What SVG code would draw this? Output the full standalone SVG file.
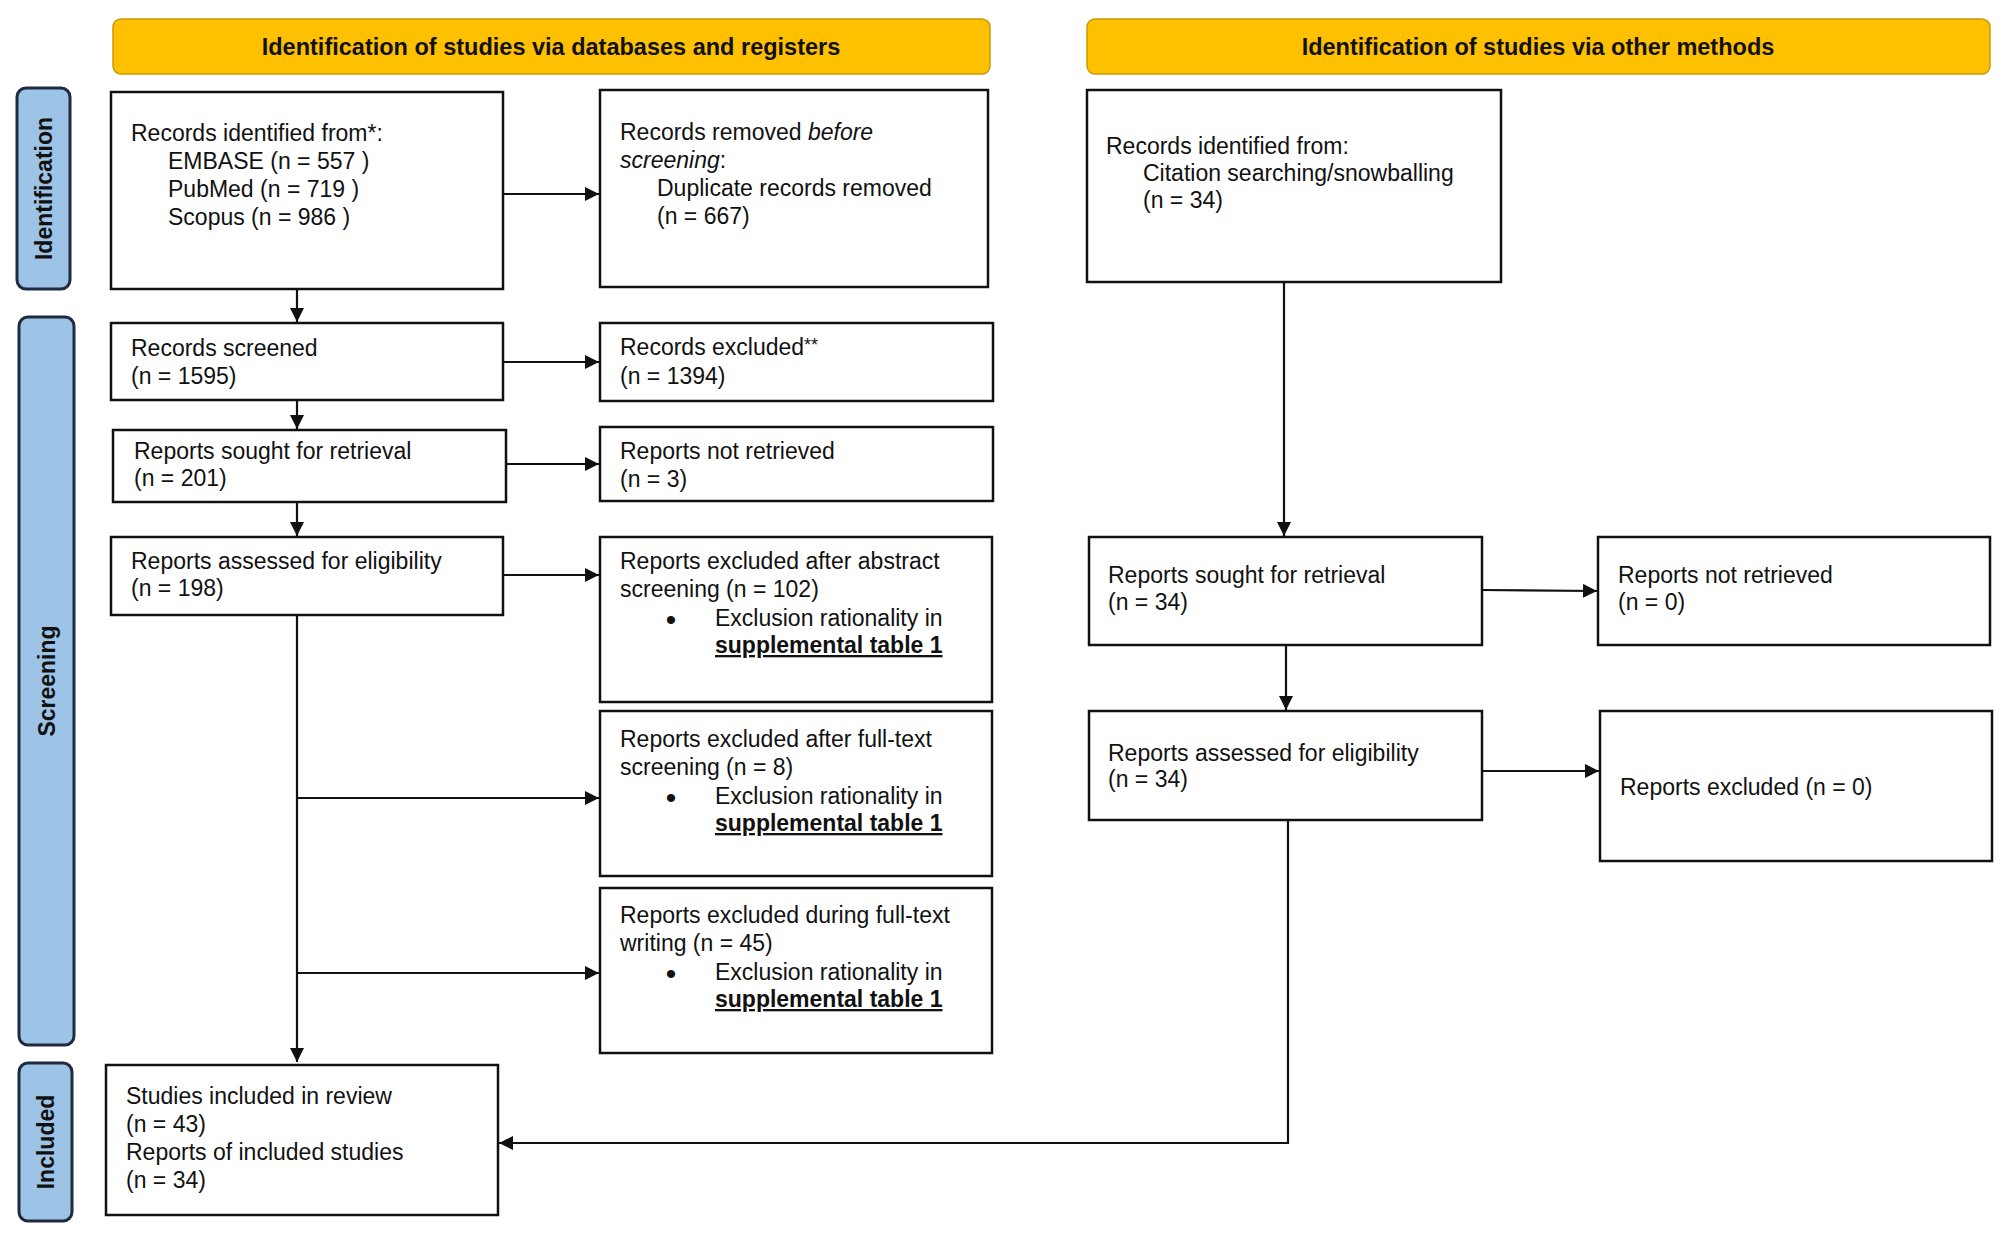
<svg xmlns="http://www.w3.org/2000/svg" width="2008" height="1233" viewBox="0 0 2008 1233">
<defs>
<style>
.box{fill:#fff;stroke:#111;stroke-width:2.5}
.hdr{fill:#FFC000;stroke:#C99A06;stroke-width:1.5}
.side{fill:#9DC3E6;stroke:#1E2B40;stroke-width:3}
.t{font-family:"Liberation Sans",Arial,sans-serif;font-size:23px;fill:#111}
.bul{font-family:"Liberation Sans",Arial,sans-serif;font-size:30px;fill:#111;text-anchor:middle}
.ht{font-family:"Liberation Sans",Arial,sans-serif;font-size:23.5px;font-weight:bold;fill:#111;text-anchor:middle}
.st{font-family:"Liberation Sans",Arial,sans-serif;font-size:23px;font-weight:bold;fill:#111;text-anchor:middle}
.u{font-weight:bold;text-decoration:underline}
.c{fill:none;stroke:#111;stroke-width:2.2}
</style>
<marker id="ah" markerUnits="userSpaceOnUse" markerWidth="15" markerHeight="15" refX="14" refY="7" orient="auto">
<path d="M0,0 L14,7 L0,14 z" fill="#111"/>
</marker>
</defs>
<rect width="2008" height="1233" fill="#fff"/>

<g id="header-databases">
<rect class="hdr" x="113" y="19" width="877" height="55" rx="8"/>
<text class="ht" x="551" y="55">Identification of studies via databases and registers</text>
</g>
<g id="header-other">
<rect class="hdr" x="1087" y="19" width="903" height="55" rx="8"/>
<text class="ht" x="1538" y="55">Identification of studies via other methods</text>
</g>

<g id="label-identification">
<rect class="side" x="17" y="88" width="53" height="201" rx="9"/>
<text class="st" transform="translate(52,188.5) rotate(-90)">Identification</text>
</g>
<g id="label-screening">
<rect class="side" x="19" y="317" width="55" height="728" rx="9"/>
<text class="st" transform="translate(54.5,681) rotate(-90)">Screening</text>
</g>
<g id="label-included">
<rect class="side" x="19" y="1063" width="53" height="158" rx="9"/>
<text class="st" transform="translate(53.5,1142) rotate(-90)">Included</text>
</g>

<g id="records-identified">
<rect class="box" x="111" y="92" width="392" height="197"/>
<text class="t" x="131" y="141">Records identified from*:</text>
<text class="t" x="168" y="169">EMBASE (n = 557 )</text>
<text class="t" x="168" y="197">PubMed (n = 719 )</text>
<text class="t" x="168" y="225">Scopus (n = 986 )</text>
</g>
<g id="records-removed">
<rect class="box" x="600" y="90" width="388" height="197"/>
<text class="t" x="620" y="140">Records removed <tspan font-style="italic">before</tspan></text>
<text class="t" x="620" y="168"><tspan font-style="italic">screening</tspan>:</text>
<text class="t" x="657" y="196">Duplicate records removed</text>
<text class="t" x="657" y="224">(n = 667)</text>
</g>
<g id="records-screened">
<rect class="box" x="111" y="323" width="392" height="77"/>
<text class="t" x="131" y="356">Records screened</text>
<text class="t" x="131" y="384">(n = 1595)</text>
</g>
<g id="records-excluded">
<rect class="box" x="600" y="323" width="393" height="78"/>
<text class="t" x="620" y="355">Records excluded<tspan font-size="18" dy="-4">**</tspan></text>
<text class="t" x="620" y="384">(n = 1394)</text>
</g>
<g id="reports-sought">
<rect class="box" x="113" y="430" width="393" height="72"/>
<text class="t" x="134" y="459">Reports sought for retrieval</text>
<text class="t" x="134" y="486">(n = 201)</text>
</g>
<g id="reports-not-retrieved">
<rect class="box" x="600" y="427" width="393" height="74"/>
<text class="t" x="620" y="459">Reports not retrieved</text>
<text class="t" x="620" y="487">(n = 3)</text>
</g>
<g id="reports-assessed">
<rect class="box" x="111" y="537" width="392" height="78"/>
<text class="t" x="131" y="569">Reports assessed for eligibility</text>
<text class="t" x="131" y="596">(n = 198)</text>
</g>
<g id="excluded-abstract">
<rect class="box" x="600" y="537" width="392" height="165"/>
<text class="t" x="620" y="569">Reports excluded after abstract</text>
<text class="t" x="620" y="597">screening (n = 102)</text>
<text class="bul" x="671" y="630">•</text>
<text class="t" x="715" y="626">Exclusion rationality in</text>
<text class="t" x="715" y="653"><tspan class="u">supplemental table 1</tspan></text>
</g>
<g id="excluded-fulltext">
<rect class="box" x="600" y="711" width="392" height="165"/>
<text class="t" x="620" y="747">Reports excluded after full-text</text>
<text class="t" x="620" y="775">screening (n = 8)</text>
<text class="bul" x="671" y="808">•</text>
<text class="t" x="715" y="804">Exclusion rationality in</text>
<text class="t" x="715" y="831"><tspan class="u">supplemental table 1</tspan></text>
</g>
<g id="excluded-writing">
<rect class="box" x="600" y="888" width="392" height="165"/>
<text class="t" x="620" y="923">Reports excluded during full-text</text>
<text class="t" x="620" y="951">writing (n = 45)</text>
<text class="bul" x="671" y="984">•</text>
<text class="t" x="715" y="980">Exclusion rationality in</text>
<text class="t" x="715" y="1007"><tspan class="u">supplemental table 1</tspan></text>
</g>
<g id="studies-included">
<rect class="box" x="106" y="1065" width="392" height="150"/>
<text class="t" x="126" y="1104">Studies included in review</text>
<text class="t" x="126" y="1132">(n = 43)</text>
<text class="t" x="126" y="1160">Reports of included studies</text>
<text class="t" x="126" y="1188">(n = 34)</text>
</g>

<g id="other-records-identified">
<rect class="box" x="1087" y="90" width="414" height="192"/>
<text class="t" x="1106" y="154">Records identified from:</text>
<text class="t" x="1143" y="181">Citation searching/snowballing</text>
<text class="t" x="1143" y="208">(n = 34)</text>
</g>
<g id="other-reports-sought">
<rect class="box" x="1089" y="537" width="393" height="108"/>
<text class="t" x="1108" y="583">Reports sought for retrieval</text>
<text class="t" x="1108" y="610">(n = 34)</text>
</g>
<g id="other-reports-not-retrieved">
<rect class="box" x="1598" y="537" width="392" height="108"/>
<text class="t" x="1618" y="583">Reports not retrieved</text>
<text class="t" x="1618" y="610">(n = 0)</text>
</g>
<g id="other-reports-assessed">
<rect class="box" x="1089" y="711" width="393" height="109"/>
<text class="t" x="1108" y="761">Reports assessed for eligibility</text>
<text class="t" x="1108" y="787">(n = 34)</text>
</g>
<g id="other-reports-excluded">
<rect class="box" x="1600" y="711" width="392" height="150"/>
<text class="t" x="1620" y="795">Reports excluded (n = 0)</text>
</g>

<g id="connectors">
<path class="c" d="M503,194 H599" marker-end="url(#ah)"/>
<path class="c" d="M297,289 V322" marker-end="url(#ah)"/>
<path class="c" d="M503,362 H599" marker-end="url(#ah)"/>
<path class="c" d="M297,400 V429" marker-end="url(#ah)"/>
<path class="c" d="M506,464 H599" marker-end="url(#ah)"/>
<path class="c" d="M297,502 V536" marker-end="url(#ah)"/>
<path class="c" d="M503,575 H599" marker-end="url(#ah)"/>
<path class="c" d="M297,615 V1062" marker-end="url(#ah)"/>
<path class="c" d="M297,798 H599" marker-end="url(#ah)"/>
<path class="c" d="M297,973 H599" marker-end="url(#ah)"/>
<path class="c" d="M1284,282 V536" marker-end="url(#ah)"/>
<path class="c" d="M1482,590 L1597,591" marker-end="url(#ah)"/>
<path class="c" d="M1286,645 V710" marker-end="url(#ah)"/>
<path class="c" d="M1482,771 H1599" marker-end="url(#ah)"/>
<path class="c" d="M1288,820 V1143 H499" marker-end="url(#ah)"/>
</g>
</svg>
